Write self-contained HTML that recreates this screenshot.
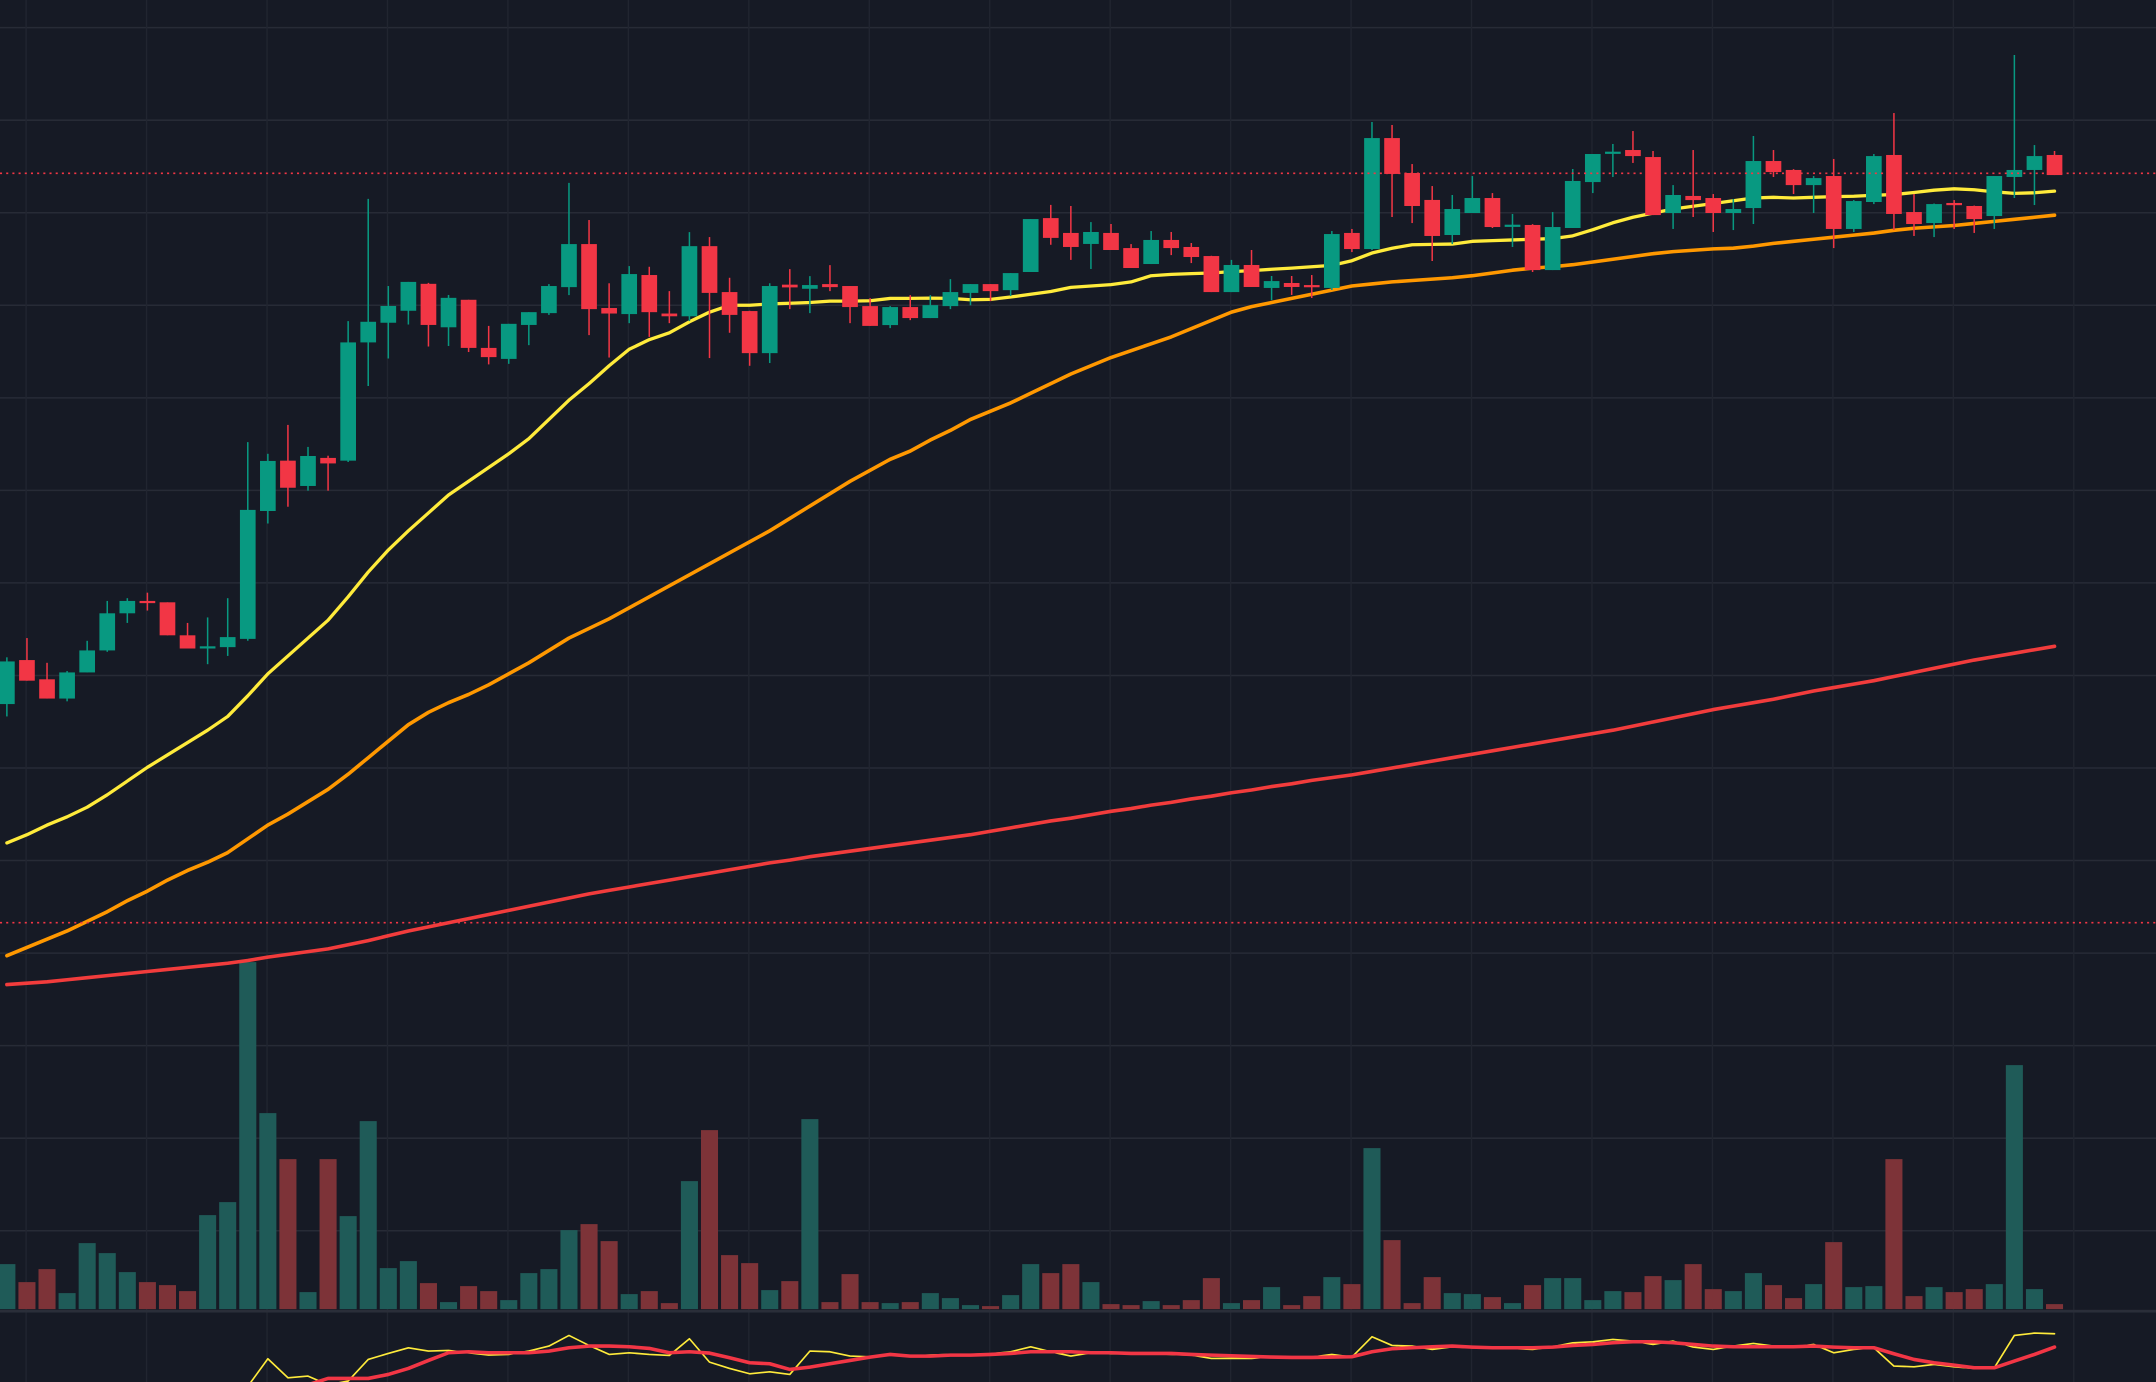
<!DOCTYPE html>
<html><head><meta charset="utf-8"><style>
html,body{margin:0;padding:0;background:#161a25;overflow:hidden}
svg{display:block}
</style></head><body>
<svg id="chart" width="2156" height="1382" viewBox="0 0 1568 1005" preserveAspectRatio="none" xmlns="http://www.w3.org/2000/svg">
<rect x="0" y="0" width="1568" height="1005" fill="#161a25"/>
<g id="grid"></g>
<g id="volume"></g>
<g id="ma"></g>
<g id="candles"></g>
<g id="refs"></g>
<clipPath id="oscClip"><rect x="0" y="955" width="1568" height="50"/></clipPath>
<g id="osc" clip-path="url(#oscClip)"></g>
</svg>
<script>
const opens=[488,520,506,492,511,527,554,563,562,538,529.5,529.4,535.4,628.4,665,646.6,667,665,751,765.3,774,793.6,762,782,747,739,763.7,772.3,791.2,822.5,776,771.6,800,772,770,821,787.6,773.8,743.2,793,790,793.4,792,777.4,763.6,776.7,768.7,777.4,787,793.4,789,802.2,841.4,830.6,822.6,830.6,819.6,808,825.5,820.4,813.8,787.6,807.3,790.6,794.2,792.7,790.6,830.6,818.9,899.6,874.2,854.6,829.1,845.1,856,836,836.4,803.6,834.2,867.6,889.2,890.9,885.8,845.1,857.5,856,845.1,848.7,882.9,876.4,865.4,872,833.5,853.1,887.3,845.8,837.8,852.4,850.2,842.9,871.3,876.4,887.3];
const highs=[522,536,518,512,534,563,565,569,562,547,551,565,678.5,670,691,675,668.6,766.5,855.4,792,795,794.3,785.5,782,763,764.5,773,793.4,867,840,794,806.5,806,788.3,831.2,827.6,798,774,794,804.3,799.2,807.2,792,783.2,777.4,785.4,785.4,797,793.4,793.4,801.4,840.7,851,850.2,838.5,837.1,822.5,832,831.3,823.3,814,811,818.2,799.3,799.3,800,832,833.5,911.3,909.1,880.7,864.7,858.2,872,859.6,844.4,837,845.8,877.1,888,895.3,904.7,890.2,865.4,890.9,858.9,855.3,901.1,890.9,877,872,884.4,854.5,888,917.8,858.9,852,854.5,850.5,872,960,894.5,890.2];
const lows=[479,505,492,490,511,526,547,556,538,528.4,517,523,534,619.3,631.5,643.2,643.2,664,719.3,739.3,764,748,748.4,744,735,735.4,749,771,785.4,756.3,740,765,755,765,766.5,739.6,758,734,736,775.2,772.3,788.3,765,763,761.4,767.2,768.7,775.2,778,781,784.7,802.2,822,811,804.4,818.2,805.1,808,814.5,808.7,787.6,787.6,791.3,781.8,785.5,783.3,789.1,816.7,818.2,842.2,837.8,810.2,822.5,845.1,834.2,820.4,802.2,803.6,834.2,859.6,871.3,881.5,843.6,833.5,842.2,831.3,832.7,837.1,871.3,858.9,845.1,819.6,831.3,851.6,832.7,828.4,827.6,833.5,830.6,833.5,856,850.9,872.7];
const closes=[519,505,492,511,527,554,563,562,538,528.4,530,536.7,629.2,664.8,645.3,668.4,663,751,766,777.5,795,763.7,783.4,747,740.3,764.5,773,792,822.5,775.2,772,800.7,773,770,821,787,771,743.2,792,791,792.7,791.2,776.7,763,776.7,768.7,778.1,787.6,793.4,788.3,801.4,840.7,827,820.4,831.3,818.2,805.1,825.5,819.6,813.1,787.6,807.3,791.3,795.6,791.3,791.5,829.8,818.9,899.6,873.5,850.2,828.4,848,856,834.9,836.6,803.6,834.9,868.4,888,889.7,886.5,843.6,858.2,854.5,845.1,848,882.9,874.9,865.4,870.5,833.5,853.8,886.5,844.4,837.1,851.6,850.9,840.7,872,876.4,886.5,872.7];
const volumes=[135,81,120,48,198,168,111,81,72,54,282,321,1041,588,450,51,450,279,564,123,144,78,21,69,54,27,108,120,237,255,204,45,54,18,384,537,162,138,57,84,570,21,105,21,18,21,48,33,12,9,42,135,108,135,81,15,12,24,12,27,93,18,27,66,12,39,96,75,483,207,18,96,48,45,36,18,72,93,93,27,54,51,99,87,135,60,54,108,72,33,75,201,66,69,450,39,66,51,60,75,732,60,15];
const maFast=[387,393,400,406,413,422,432,442,451,460,469,479,494,510,523,536,549,566,584,600,614,627,640,650,660,670,681,695,709,721,734,746,753,758,766,773,778,778,779,779.5,780,781,781,781.3,783,783,783.2,783,782,782.3,784,786,788,791,792,793,795,799.5,800.5,801,801.5,802.5,803.2,804.2,805,806,807,810.4,816,819.5,822,822.3,822.5,824.5,825,825.5,826,826.5,828.5,833,838,842,845,848,850,852,854,856,856.5,856,856.5,857,857.3,858,858.5,860,861.7,862.7,862,860.5,859.4,859.8,861];
const maMid=[305,311,317,323,330,337,345,352,360,367,373,380,390,400,408,417,426,437,449,461,473,482,489,495,502,510,518,527,536,543,550,558,566,574,582,590,598,606,614,623,632,641,650,658,666,672,680,687,695,701,707,714,721,728,734,740,745,750,755,761,767,773,777,780,783,786,789,792,793.5,795,796,797,798,799.5,801.5,803.5,805,806,807.5,809.5,811.5,813.5,815.5,817,818,819,819.5,821,823,824.5,826,827.5,829,830.5,832.5,834,835,836,837.5,839,840.5,842,843.5];
const maSlow=[284,285,286,287.5,289,290.5,292,293.5,295,296.5,298,299.5,301.5,304,306,308,310,313,316,319.5,323,326,329,332,335,338,341,344,347,350,352.5,355,357.5,360,362.5,365,367.5,370,372.5,374.5,377,379,381,383,385,387,389,391,393,395.5,398,400.5,403,405,407.5,410,412,414.5,416.5,419,421,423.5,425.5,428,430,432.5,434.5,436.5,439,441.5,444,446.5,449,451.5,454,456.5,459,461.5,464,466.5,469,472,475,478,481,484,486.5,489,491.5,494.5,497.5,500,502.5,505,508,511,514,517,520,522.5,525,527.5,530];
const oscFast=[null,null,null,null,null,null,null,null,null,null,null,null,-10,73,16,21,-5,6,71,89,106,96,98,91,84,86,96,111,143,113,86,91,86,83,133,63,44,28,34,26,96,94,81,79,84,81,84,86,86,88,94,109,94,81,91,88,89,89,86,84,74,74,74,79,78,78,86,78,139,113,111,101,109,106,106,104,101,109,121,124,131,126,116,126,108,101,111,119,111,108,116,91,101,106,51,49,56,49,44,46,143,150,148];
const oscSlow=[null,null,null,null,null,null,null,null,null,null,null,null,null,null,null,-5,14,14,14,26,44,68,91,94,91,91,91,96,106,111,111,109,104,91,94,90,76,61,58,41,48,58,68,78,86,81,81,84,84,86,89,94,94,94,91,91,89,89,89,86,84,82,80,78,77,77,78,79,94,103,106,109,111,108,106,106,106,108,113,116,121,124,124,121,116,111,109,109,109,109,111,108,106,106,88,71,61,54,46,46,66,86,108];
const priceRefs=[874,329];
const hGrid=[20.1,87.4,154.7,222,289.3,356.6,423.9,491.2,558.5,625.8,693.1,760.4,827.7,895];
const vGrid=[19,106.6,194.2,281.8,369.4,457,544.6,632.2,719.8,807.4,895,982.6,1070.2,1157.8,1245.4,1333,1420.6,1508.2];

const NS='http://www.w3.org/2000/svg';
const xAt=i=>5+i*14.6;
const yPrice=p=>1000-p;
const yVol=v=>952-v*0.2424;
const yOsc=o=>1005.8-o*0.2424;
function mk(tag,attrs,parent){const e=document.createElementNS(NS,tag);for(const k in attrs)e.setAttribute(k,attrs[k]);parent.appendChild(e);return e;}
const G=id=>document.getElementById(id);

hGrid.forEach(y=>{const l=mk('line',{x1:0,x2:1568,y1:y,y2:y,stroke:'#272b36','stroke-width':1.1},G('grid'));

});
vGrid.forEach(x=>{const l=mk('line',{x1:x,x2:x,y1:0,y2:1005,stroke:'#212530','stroke-width':1},G('grid'));

});
const sep=mk('rect',{x:0,y:952.5,width:1568,height:2,fill:'#2a2e39'},G('grid'));



volumes.forEach((v,i)=>{const up=closes[i]>=opens[i];
const b=mk('rect',{x:xAt(i)-6.2,y:yVol(v),width:12.4,height:952-yVol(v),fill:up?'#1f5b58':'#7d3338'},G('volume'));

});

function line(arr,yf,color,w,parent,name){let d='';let pen=false;arr.forEach((v,i)=>{if(v===null){pen=false;return;}d+=(pen?'L':'M')+xAt(i).toFixed(1)+' '+yf(v).toFixed(2)+' ';pen=true;});
const p=mk('path',{d:d,fill:'none',stroke:color,'stroke-width':w,'stroke-linejoin':'round','stroke-linecap':'round'},parent);

}
line(maSlow,yPrice,'#f23c3c',2.6,G('ma'),'ma-slow-line');
line(maMid,yPrice,'#ff9800',2.6,G('ma'),'ma-mid-line');
line(maFast,yPrice,'#ffeb3b',2.4,G('ma'),'ma-fast-line');

opens.forEach((o,i)=>{const c=closes[i];const up=c>=o;const col=up?'#089981':'#f23645';const x=xAt(i);
const g=mk('g',{},G('candles'));


mk('line',{x1:x,x2:x,y1:yPrice(highs[i]),y2:yPrice(lows[i]),stroke:col,'stroke-width':1.1},g);
const top=yPrice(Math.max(o,c));const h=Math.max(1.6,Math.abs(yPrice(o)-yPrice(c)));
mk('rect',{x:x-5.7,y:top,width:11.4,height:h,fill:col},g);});

priceRefs.forEach(p=>{const l=mk('line',{x1:0,x2:1568,y1:yPrice(p),y2:yPrice(p),stroke:'#f23645','stroke-width':1.2,'stroke-dasharray':'1.5 3'},G('refs'));

});

line(oscFast,yOsc,'#ffeb3b',1.2,G('osc'),'oscillator-fast-line');
line(oscSlow,yOsc,'#f23645',2.6,G('osc'),'oscillator-slow-line');
</script>
</body></html>
